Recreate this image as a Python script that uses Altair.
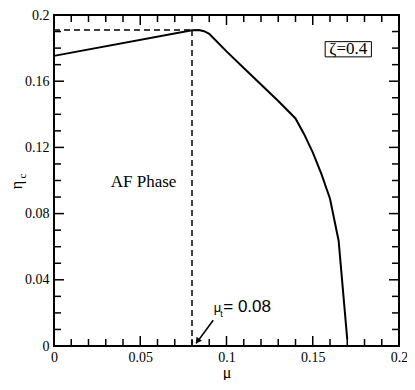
import altair as alt
import pandas as pd

# ---- data ----
mu = [0.0, 0.08, 0.084, 0.087, 0.09, 0.1, 0.11, 0.12, 0.13,
      0.14, 0.145, 0.15, 0.155, 0.16, 0.165, 0.17]
eta = [0.1753, 0.1908, 0.1909, 0.1902, 0.1886, 0.178, 0.168, 0.158, 0.148,
       0.1375, 0.128, 0.117, 0.104, 0.089, 0.0636, 0.004]

x_major = [0, 0.05, 0.1, 0.15, 0.2]
y_major = [0, 0.04, 0.08, 0.12, 0.16, 0.2]
x_minor = [round(0.01 * i, 2) for i in range(1, 20) if i % 5]
y_minor = [round(0.01 * i, 2) for i in range(1, 20) if i % 4]

mu_t = 0.08
eta_t = 0.191

SERIF = "Liberation Serif"
SANS = "Liberation Sans"

curve = pd.DataFrame({"mu": mu, "eta": eta})
xs = alt.Scale(domain=[0, 0.2], nice=False, zero=False)
ys = alt.Scale(domain=[0, 0.2], nice=False, zero=False)

label_x = alt.Axis(orient="bottom", values=x_major, format="~g", ticks=False, domain=False,
                   grid=False, labelFont=SERIF, labelFontSize=14, labelColor="black",
                   labelPadding=4, labelFlush=False, labelOverlap=False,
                   title="μ", titleFont=SERIF, titleFontSize=16, titleFontWeight="normal",
                   titleColor="black", titlePadding=0)
label_y = alt.Axis(orient="left", values=y_major, format="~g", ticks=False, domain=False,
                   grid=False, labelFont=SERIF, labelFontSize=14, labelColor="black",
                   labelPadding=5, labelOverlap=False, labelFlush=False, title=None)

X = lambda f: alt.X(f, scale=xs, axis=None)
Y = lambda f: alt.Y(f, scale=ys, axis=None)

line = alt.Chart(curve).mark_line(color="black", strokeWidth=2).encode(
    x=alt.X("mu:Q", scale=xs, axis=label_x),
    y=alt.Y("eta:Q", scale=ys, axis=label_y),
)

# inward ticks on all four sides, drawn from the tick value lists
def xticks(vals, at, size, sign):
    df = pd.DataFrame({"v": vals, "p": [at] * len(vals)})
    return alt.Chart(df).mark_tick(orient="vertical", size=size, thickness=1.5,
                                   color="black", opacity=1, yOffset=sign * size / 2).encode(
        x=X("v:Q"), y=Y("p:Q"))


def yticks(vals, at, size, sign):
    df = pd.DataFrame({"v": vals, "p": [at] * len(vals)})
    return alt.Chart(df).mark_tick(orient="horizontal", size=size, thickness=1.5,
                                   color="black", opacity=1, xOffset=sign * size / 2).encode(
        x=X("p:Q"), y=Y("v:Q"))


ticks = [
    xticks(x_major, 0.0, 10, -1), xticks(x_minor, 0.0, 7, -1),
    xticks(x_major, 0.2, 10, 1), xticks(x_minor, 0.2, 7, 1),
    yticks(y_major, 0.0, 10, 1), yticks(y_minor, 0.0, 7, 1),
    yticks(y_major, 0.2, 10, -1), yticks(y_minor, 0.2, 7, -1),
]

dash_df = pd.DataFrame({"x1": [0.0, mu_t], "x2": [mu_t, mu_t],
                        "y1": [eta_t, 0.0], "y2": [eta_t, eta_t]})
dashed = alt.Chart(dash_df).mark_rule(color="black", strokeWidth=1.5, strokeDash=[6, 4]).encode(
    x=X("x1:Q"), x2="x2:Q", y=Y("y1:Q"), y2="y2:Q")

af_df = pd.DataFrame({"mu": [0.0519], "eta": [0.099], "t": ["AF Phase"]})
af = alt.Chart(af_df).mark_text(font=SERIF, fontSize=17, color="black",
                                align="center", baseline="middle").encode(
    x=X("mu:Q"), y=Y("eta:Q"), text="t:N")

box_df = pd.DataFrame({"x1": [0.1572], "x2": [0.184], "y1": [0.1747], "y2": [0.1839]})
box = alt.Chart(box_df).mark_rect(fill="white", stroke="black", strokeWidth=1).encode(
    x=X("x1:Q"), x2="x2:Q", y=Y("y1:Q"), y2="y2:Q")
zeta_df = pd.DataFrame({"mu": [0.1706], "eta": [0.1793], "t": ["ζ=0.4"]})
zeta = alt.Chart(zeta_df).mark_text(font=SERIF, fontSize=17, color="black",
                                    align="center", baseline="middle").encode(
    x=X("mu:Q"), y=Y("eta:Q"), text="t:N")

# mu_t annotation
ann_df = pd.DataFrame({"mu": [0.0926], "eta": [0.0207]})
ann_mu = alt.Chart(ann_df).mark_text(text="μ", font=SANS, fontSize=13, color="black",
                                     align="left", baseline="alphabetic").encode(
    x=X("mu:Q"), y=Y("eta:Q"))
ann_t = alt.Chart(ann_df).mark_text(text="t", font=SANS, fontSize=9, color="black",
                                    align="left", baseline="alphabetic", dx=6.5, dy=5).encode(
    x=X("mu:Q"), y=Y("eta:Q"))
ann_val = alt.Chart(ann_df).mark_text(text="= 0.08", font=SANS, fontSize=17, color="black",
                                      align="left", baseline="alphabetic", dx=9.5).encode(
    x=X("mu:Q"), y=Y("eta:Q"))

arrow_df = pd.DataFrame({"x1": [0.0923], "y1": [0.0155], "x2": [0.0824], "y2": [0.0016]})
arrow = alt.Chart(arrow_df).mark_rule(color="black", strokeWidth=1.6).encode(
    x=X("x1:Q"), x2="x2:Q", y=Y("y1:Q"), y2="y2:Q")
head_df = pd.DataFrame({"mu": [0.0832], "eta": [0.0030]})
head = alt.Chart(head_df).mark_point(shape="triangle-up", angle=216, size=45, filled=True,
                                     color="black", opacity=1).encode(
    x=X("mu:Q"), y=Y("eta:Q"))

# y title eta_c
yt_eta = alt.Chart(ann_df).mark_text(text="η", font=SERIF, fontSize=16, color="black",
                                     angle=270, align="center", baseline="alphabetic").encode(
    x=alt.value(-32), y=alt.value(170))
yt_c = alt.Chart(ann_df).mark_text(text="c", font=SERIF, fontSize=11, color="black",
                                   angle=270, align="center", baseline="alphabetic").encode(
    x=alt.value(-28.5), y=alt.value(161))

chart = alt.layer(
    line, dashed, *ticks, af, box, zeta, ann_mu, ann_t, ann_val, arrow, head,
    yt_eta, yt_c
).resolve_axis(x="independent", y="independent").properties(
    width=345, height=331,
    autosize=alt.AutoSizeParams(type="none"),
    padding={"left": 46, "top": 7, "right": 8, "bottom": 34},
).configure_view(stroke="black", strokeWidth=2)

chart.save("out.html", embed_options={"renderer": "svg", "actions": False})
